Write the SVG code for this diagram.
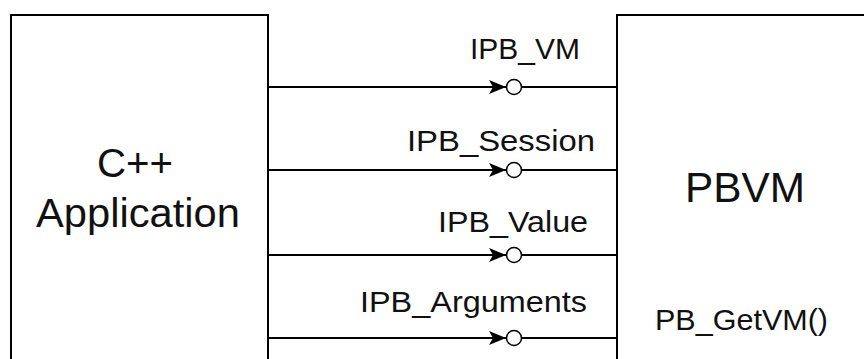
<svg xmlns="http://www.w3.org/2000/svg" width="864" height="359" viewBox="0 0 864 359">
<defs>
<style>
.box{fill:#fff;stroke:#000;stroke-width:2}
.ln{stroke:#000;stroke-width:2;fill:none}
.t{font-family:"Liberation Sans",Arial,sans-serif;fill:#111}
.lbl{font-size:29px}
.arr{fill:#000}
.cir{fill:#fff;stroke:#000;stroke-width:1.5}
</style>
<g id="sym">
<path class="arr" d="M-26,-7 L-9,0 L-26,7 L-22,0 Z"/>
<circle class="cir" cx="-1" cy="0" r="7.5"/>
</g>
</defs>
<rect width="864" height="359" fill="#fff"/>
<g id="cpp-app">
<rect class="box" x="11" y="15" width="257" height="360"/>
<text class="t" x="135" y="177" font-size="40" text-anchor="middle" textLength="76" lengthAdjust="spacingAndGlyphs">C++</text>
<text class="t" x="138" y="227" font-size="40" text-anchor="middle" textLength="204" lengthAdjust="spacingAndGlyphs">Application</text>
</g>
<g id="pbvm">
<rect class="box" x="617" y="15" width="260" height="360"/>
<text class="t" x="745" y="202" font-size="42" text-anchor="middle" textLength="120" lengthAdjust="spacingAndGlyphs">PBVM</text>
<text class="t lbl" x="655" y="330" textLength="173" lengthAdjust="spacingAndGlyphs">PB_GetVM()</text>
</g>
<g id="connectors">
<line class="ln" x1="268" y1="87" x2="617" y2="87"/>
<line class="ln" x1="268" y1="170" x2="617" y2="170"/>
<line class="ln" x1="268" y1="255" x2="617" y2="255"/>
<line class="ln" x1="268" y1="338" x2="617" y2="338"/>
<use href="#sym" x="515" y="87"/>
<use href="#sym" x="515" y="170"/>
<use href="#sym" x="515" y="255"/>
<use href="#sym" x="515" y="338"/>
<text class="t lbl" x="470" y="59" textLength="110" lengthAdjust="spacingAndGlyphs">IPB_VM</text>
<text class="t lbl" x="407" y="151" textLength="188" lengthAdjust="spacingAndGlyphs">IPB_Session</text>
<text class="t lbl" x="438" y="232" textLength="150" lengthAdjust="spacingAndGlyphs">IPB_Value</text>
<text class="t lbl" x="360" y="312" textLength="227" lengthAdjust="spacingAndGlyphs">IPB_Arguments</text>
</g>
</svg>
